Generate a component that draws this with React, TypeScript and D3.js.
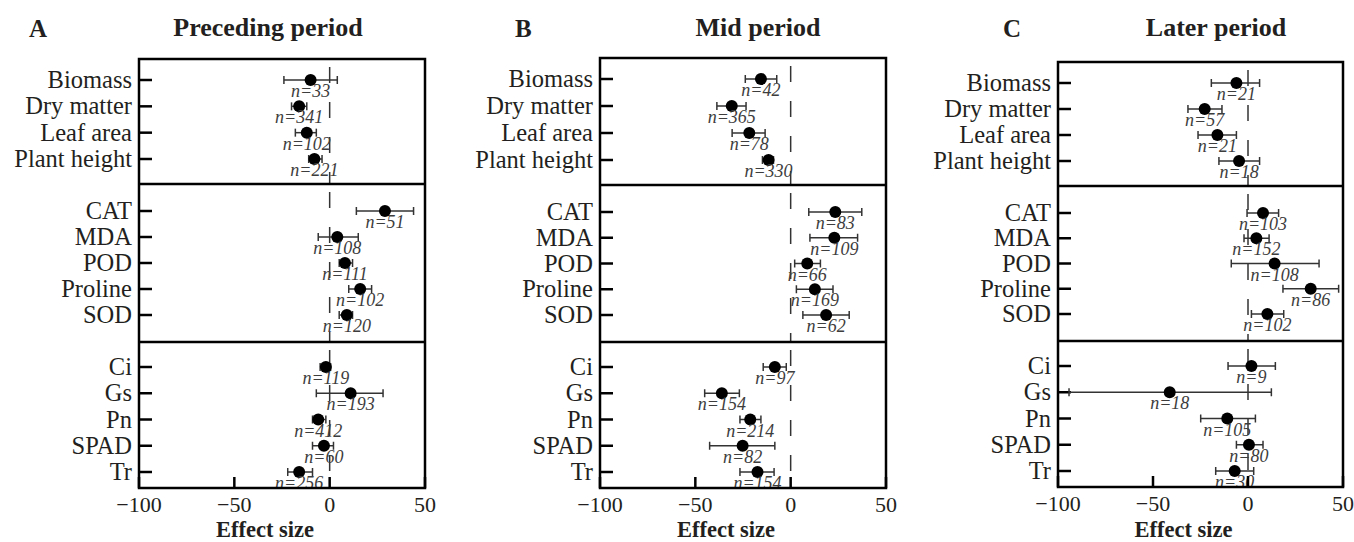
import * as d3 from 'd3';
import React, { useRef, useEffect } from 'react';

const width = 1354;
const height = 542;

// trait rows, grouped by section
const growthTraits = ["Biomass", "Dry matter", "Leaf area", "Plant height"];
const enzymeTraits = ["CAT", "MDA", "POD", "Proline", "SOD"];
const photoTraits = ["Ci", "Gs", "Pn", "SPAD", "Tr"];
const sections = [growthTraits, enzymeTraits, photoTraits];

const xTicks = [-100, -50, 0, 50];
const panelLetters = ["A", "B", "C"];
const periodNames = ["Preceding period", "Mid period", "Later period"];

// effect sizes, rows in order of the sections above
const precedingMean = [-10, -16, -12, -8, 29, 4, 8, 16, 9, -2, 11, -6, -3, -16];
const precedingLow = [-24, -20, -18, -11, 14, -6, 5, 10, 5, -5, -7, -9, -9, -22];
const precedingHigh = [4, -12, -7, -4, 44, 15, 12, 22, 12, 0.5, 28, -2, 2, -9];
const precedingN = [33, 341, 102, 221, 51, 108, 111, 102, 120, 119, 193, 412, 60, 256];

const midMean = [-15.6, -30.9, -21.7, -11.6, 23.4, 22.9, 8.7, 12.7, 18.6, -8.3, -36.1, -21.2, -25.2, -17.4];
const midLow = [-23.8, -38.7, -30.7, -14.8, 9.5, 10.1, 2.1, 3.0, 6.4, -14.4, -45.1, -26.6, -42.5, -26.6];
const midHigh = [-7.3, -23.4, -13.4, -9.0, 37.3, 35.1, 15.6, 22.2, 30.7, -2.3, -26.9, -15.6, -8.3, -8.7];
const midN = [42, 365, 78, 330, 83, 109, 66, 169, 62, 97, 154, 214, 82, 154];

const laterMean = [-6.1, -22.8, -16.1, -4.7, 7.9, 4.4, 14.0, 33.0, 10.2, 1.8, -41.2, -10.9, 0.5, -7.0];
const laterLow = [-19.3, -31.6, -26.3, -15.3, -0.5, -2.1, -8.8, 18.4, 1.8, -10.5, -94.2, -24.9, -6.1, -17.0];
const laterHigh = [6.1, -13.7, -6.1, 6.1, 16.1, 11.1, 37.4, 47.7, 18.8, 14.4, 12.3, 3.9, 7.9, 3.0];
const laterN = [21, 57, 21, 18, 103, 152, 108, 86, 102, 9, 18, 105, 80, 30];

const periodData = [
    { mean: precedingMean, low: precedingLow, high: precedingHigh, n: precedingN },
    { mean: midMean, low: midLow, high: midHigh, n: midN },
    { mean: laterMean, low: laterLow, high: laterHigh, n: laterN },
];

// panel frames in page pixels
const layout = [
    { left: 139, right: 425, top: 59, div1: 184, div2: 342, bottom: 488, letterX: 29, titleX: 268 },
    { left: 600, right: 886, top: 58, div1: 185, div2: 342, bottom: 488, letterX: 515, titleX: 758 },
    { left: 1058, right: 1343, top: 62, div1: 186, div2: 341, bottom: 487, letterX: 1003, titleX: 1216 },
];

const serif = "'Liberation Serif', 'Times New Roman', serif";
const textColor = "#231f20";

function ForestPanels() {
    const ref = useRef<SVGSVGElement>(null);

    useEffect(() => {
        const svg = d3.select(ref.current);
        svg.selectAll("*").remove();
        svg.append("rect").attr("width", width).attr("height", height).attr("fill", "#fff");

        layout.forEach((L, p) => {
            const data = periodData[p];
            const g = svg.append("g");
            const x = d3.scaleLinear().domain([-100, 50]).range([L.left, L.right]);

            // panel letter and title
            g.append("text")
                .attr("x", L.letterX).attr("y", 37)
                .attr("font-family", serif).attr("font-weight", "bold")
                .attr("font-size", 25).attr("fill", textColor)
                .text(panelLetters[p]);
            g.append("text")
                .attr("x", L.titleX).attr("y", 36)
                .attr("text-anchor", "middle")
                .attr("font-family", serif).attr("font-weight", "bold")
                .attr("font-size", 26).attr("fill", textColor)
                .text(periodNames[p]);

            const bounds = [
                [L.top, L.div1, L.top + 21, L.div1 - 25],
                [L.div1, L.div2, L.div1 + 27, L.div2 - 27],
                [L.div2, L.bottom, L.div2 + 25, L.bottom - 16],
            ];

            let row = 0;
            sections.forEach((traits, s) => {
                const [sTop, sBottom, first, last] = bounds[s];
                const y = d3.scalePoint<string>().domain(traits).range([first, last]);

                // zero reference line
                g.append("line")
                    .attr("x1", x(0)).attr("x2", x(0))
                    .attr("y1", sTop).attr("y2", sBottom)
                    .attr("stroke", "#333").attr("stroke-width", 1.5)
                    .attr("stroke-dasharray", "16,19")
                    .attr("stroke-dashoffset", 27);

                traits.forEach((t) => {
                    const yy = y(t) as number;
                    const i = row++;
                    // y tick and label
                    g.append("line")
                        .attr("x1", L.left).attr("x2", L.left + 13)
                        .attr("y1", yy).attr("y2", yy)
                        .attr("stroke", "#000").attr("stroke-width", 2.5);
                    g.append("text")
                        .attr("x", L.left - 7).attr("y", yy).attr("dy", "0.33em")
                        .attr("text-anchor", "end")
                        .attr("font-family", serif).attr("font-size", 24.5)
                        .attr("fill", textColor)
                        .text(t);

                    // error bar
                    const x0 = x(data.low[i]), x1 = x(data.high[i]);
                    g.append("line")
                        .attr("x1", x0).attr("x2", x1).attr("y1", yy).attr("y2", yy)
                        .attr("stroke", "#333").attr("stroke-width", 1.5);
                    [x0, x1].forEach((cx) => {
                        g.append("line")
                            .attr("x1", cx).attr("x2", cx)
                            .attr("y1", yy - 4).attr("y2", yy + 4)
                            .attr("stroke", "#333").attr("stroke-width", 1.5);
                    });
                    g.append("circle")
                        .attr("cx", x(data.mean[i])).attr("cy", yy).attr("r", 6)
                        .attr("fill", "#000");
                    g.append("text")
                        .attr("x", x(data.mean[i])).attr("y", yy + 17)
                        .attr("text-anchor", "middle")
                        .attr("font-family", serif).attr("font-style", "italic")
                        .attr("font-size", 18).attr("fill", "#3d3d3d")
                        .text("n=" + data.n[i]);
                });
            });

            // frame and section dividers
            g.append("rect")
                .attr("x", L.left).attr("y", L.top)
                .attr("width", L.right - L.left).attr("height", L.bottom - L.top)
                .attr("fill", "none").attr("stroke", "#000").attr("stroke-width", 2.5);
            [L.div1, L.div2].forEach((dy) => {
                g.append("line")
                    .attr("x1", L.left).attr("x2", L.right).attr("y1", dy).attr("y2", dy)
                    .attr("stroke", "#000").attr("stroke-width", 2.5);
            });

            // x axis
            xTicks.forEach((t) => {
                g.append("line")
                    .attr("x1", x(t)).attr("x2", x(t))
                    .attr("y1", L.bottom).attr("y2", L.bottom - 11)
                    .attr("stroke", "#000").attr("stroke-width", 2.5);
                g.append("text")
                    .attr("x", x(t)).attr("y", L.bottom + 24)
                    .attr("text-anchor", "middle")
                    .attr("font-family", serif).attr("font-size", 22)
                    .attr("fill", textColor)
                    .text(t < 0 ? "\u2212" + Math.abs(t) : String(t));
            });
            g.append("text")
                .attr("x", (L.left + L.right) / 2 - 17).attr("y", 537)
                .attr("text-anchor", "middle")
                .attr("font-family", serif).attr("font-weight", "bold")
                .attr("font-size", 22.5).attr("fill", textColor)
                .text("Effect size");
        });
    }, []);

    return (
        <svg ref={ref} width={width} height={height}
            style={{ position: "absolute", left: 0, top: 0 }} />
    );
}

export default function App() {
    return <ForestPanels />;
}
